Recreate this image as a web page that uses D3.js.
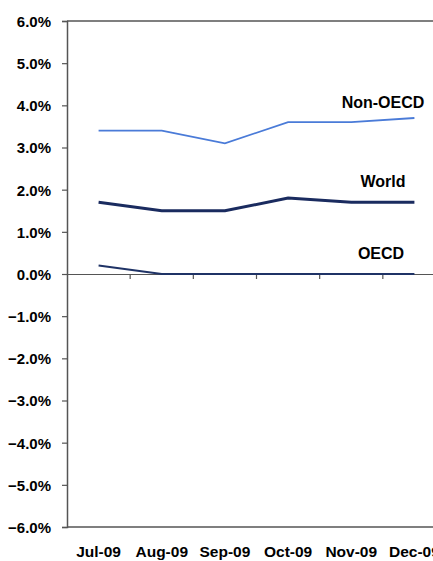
<!DOCTYPE html>
<html><head><meta charset="utf-8">
<script src="https://cdn.jsdelivr.net/npm/d3@7"></script>
<style>body{margin:0;background:#fff}svg{display:block}text{font-family:"Liberation Sans",Arial,sans-serif;font-weight:bold;fill:#000}</style>
</head><body><svg id="c" width="433" height="561"></svg>
<script>
const months = ["Jul-09","Aug-09","Sep-09","Oct-09","Nov-09","Dec-09"];
const nonOECD = [3.4,3.4,3.1,3.6,3.6,3.7];
const world = [1.7,1.5,1.5,1.8,1.7,1.7];
const oecd = [0.2,0.0,0.0,0.0,0.0,0.0];
const yTicks = [6,5,4,3,2,1,0,-1,-2,-3,-4,-5,-6];
const seriesNames = ["Non-OECD","World","OECD"];

const svg = d3.select("#c");
const pL = 67, pR = 446, pT = 21, pB = 527;
const x = d3.scaleBand().domain(months).range([pL, pR]).padding(0);
const y = d3.scaleLinear().domain([-6, 6]).range([pB, pT]);
const axisCol = "#555";

// frame
svg.append("line").attr("x1",pL).attr("x2",pR).attr("y1",pT).attr("y2",pT).attr("stroke",axisCol).attr("stroke-width",1.5);
svg.append("line").attr("x1",pL).attr("x2",pR).attr("y1",pB).attr("y2",pB).attr("stroke",axisCol).attr("stroke-width",1.5);

// y axis
const ya = svg.append("g").attr("transform",`translate(${pL},0)`)
  .call(d3.axisLeft(y).tickValues(yTicks).tickSize(5).tickPadding(11).tickFormat(d => d3.format(".1f")(d) + "%"));
ya.select(".domain").attr("stroke",axisCol).attr("stroke-width",1.5);
ya.selectAll(".tick line").attr("stroke",axisCol).attr("stroke-width",1.2);
ya.selectAll("text").style("font-size","15px").attr("fill","#000").attr("dy","0.36em");

// zero axis with ticks
const xa = svg.append("g").attr("transform",`translate(0,${y(0)})`)
  .call(d3.axisBottom(x).tickSize(0).tickFormat(""));
xa.select(".domain").attr("stroke",axisCol).attr("stroke-width",1.2);
const bounds = months.map(m => x(m)).concat([pR]).slice(1);
svg.append("g").selectAll("line").data(bounds).join("line")
  .attr("x1",d=>d).attr("x2",d=>d).attr("y1",y(0)).attr("y2",y(0)+5)
  .attr("stroke",axisCol).attr("stroke-width",1.2);

// x labels
svg.append("g").selectAll("text").data(months).join("text")
  .attr("x",d=>x(d)+x.bandwidth()/2).attr("y",557).attr("text-anchor","middle")
  .style("font-size","15.5px").text(d=>d);

const line = d3.line().x((d,i)=>x(months[i])+x.bandwidth()/2).y(d=>y(d));
svg.append("path").datum(nonOECD).attr("d",line).attr("fill","none").attr("stroke","#4A7BD8").attr("stroke-width",1.8);
svg.append("path").datum(world).attr("d",line).attr("fill","none").attr("stroke","#1A2B5F").attr("stroke-width",3);
svg.append("path").datum(oecd).attr("d",line).attr("fill","none").attr("stroke","#1F3366").attr("stroke-width",2);

const labelPos = [[383,108],[383,187],[381,259]];
svg.append("g").selectAll("text").data(seriesNames).join("text")
  .attr("x",(d,i)=>labelPos[i][0]).attr("y",(d,i)=>labelPos[i][1]).attr("text-anchor","middle").style("font-size","16px").text(d=>d);
</script></body></html>
